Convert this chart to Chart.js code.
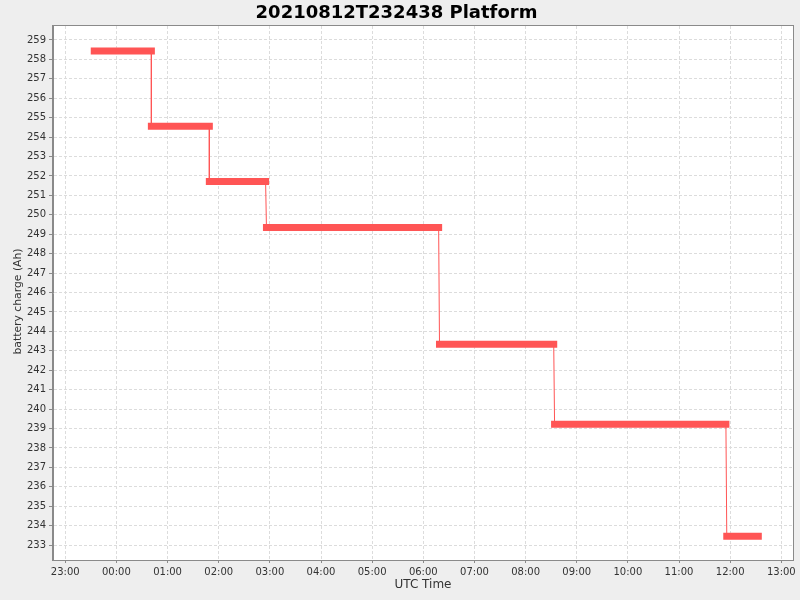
<!DOCTYPE html>
<html>
<head>
<meta charset="utf-8">
<script src="https://cdn.jsdelivr.net/npm/chart.js@4.4.1/dist/chart.umd.min.js"></script>
<style>
  html, body { margin: 0; padding: 0; background: #eeeeee; }
  #wrap { width: 800px; height: 600px; }
</style>
</head>
<body>
<div id="wrap"><canvas id="c" width="800" height="600"></canvas></div>
<script>
// ---- data ----
const chartTitle = "20210812T232438 Platform";
const xAxisTitle = "UTC Time";
const yAxisTitle = "battery charge (Ah)";
const segStart = ["23:34", "00:41", "01:49", "02:56", "06:19", "08:34", "11:56"];
const segEnd   = ["00:41", "01:49", "02:55", "06:18", "08:33", "11:55", "12:33"];
const segValue = [258.43, 254.56, 251.72, 249.35, 243.34, 239.22, 233.45];
const xTickLabels = ["23:00","00:00","01:00","02:00","03:00","04:00","05:00","06:00","07:00","08:00","09:00","10:00","11:00","12:00","13:00"];
const yTickValues = [233,234,235,236,237,238,239,240,241,242,243,244,245,246,247,248,249,250,251,252,253,254,255,256,257,258,259];
const xRange = ["22:45.6", "13:13.7"];
const yRange = [232.23, 259.72];

// time "HH:MM" -> hours on a continuous axis (night of 12 -> 13 Aug)
function toHours(s) {
  const p = s.split(":");
  let h = parseFloat(p[0]) + parseFloat(p[1]) / 60;
  if (h < 20) h += 24;
  return h;
}

const thinPts = [];
const thickPts = [];
for (let i = 0; i < segValue.length; i++) {
  const a = { x: toHours(segStart[i]), y: segValue[i] };
  const b = { x: toHours(segEnd[i]), y: segValue[i] };
  thinPts.push(a, b);
  thickPts.push(a, b);
  if (i < segValue.length - 1) thickPts.push({ x: (b.x + toHours(segStart[i + 1])) / 2, y: null });
}
const xTickValues = xTickLabels.map(toHours);

const FONT = "'DejaVu Sans', sans-serif";

const plotFrame = {
  id: 'plotFrame',
  beforeDraw(chart) {
    const { ctx, chartArea: a } = chart;
    ctx.save();
    ctx.fillStyle = '#eeeeee';
    ctx.fillRect(0, 0, chart.width, chart.height);
    ctx.fillStyle = '#ffffff';
    ctx.fillRect(a.left, a.top, a.right - a.left, a.bottom - a.top);
    ctx.restore();
  },
  afterDraw(chart) {
    const { ctx, chartArea: a } = chart;
    ctx.save();
    ctx.strokeStyle = '#8a8a8a';
    ctx.lineWidth = 1;
    ctx.strokeRect(Math.round(a.left) - 0.5, Math.round(a.top) - 0.5, Math.round(a.right - a.left) + 1, Math.round(a.bottom - a.top) + 1);
    // y axis title
    ctx.translate(18, (a.top + a.bottom) / 2 + 8.5);
    ctx.rotate(-Math.PI / 2);
    ctx.fillStyle = '#333333';
    ctx.font = "10.8px " + FONT;
    ctx.textAlign = 'center';
    ctx.textBaseline = 'middle';
    ctx.fillText(yAxisTitle, 0, 0);
    ctx.restore();
  }
};

new Chart(document.getElementById('c'), {
  type: 'line',
  data: {
    datasets: [
      {
        label: 'connect',
        data: thinPts,
        borderColor: '#ff5555',
        borderWidth: 1,
        pointRadius: 0,
        tension: 0,
        fill: false
      },
      {
        label: 'charge',
        data: thickPts,
        borderColor: '#ff5555',
        borderWidth: 7,
        borderCapStyle: 'square',
        pointRadius: 0,
        spanGaps: false,
        tension: 0,
        fill: false
      }
    ]
  },
  options: {
    responsive: false,
    animation: false,
    devicePixelRatio: 1,
    layout: { padding: { left: 0, right: 7, top: 0, bottom: 0 } },
    plugins: {
      legend: { display: false },
      tooltip: { enabled: false },
      title: {
        display: true,
        text: chartTitle,
        color: '#000000',
        font: { family: FONT, size: 18, weight: 'bold' },
        padding: { top: 2.2, bottom: 2.2 }
      }
    },
    scales: {
      x: {
        type: 'linear',
        min: toHours(xRange[0]),
        max: toHours(xRange[1]),
        afterBuildTicks: (s) => { s.ticks = xTickValues.map(v => ({ value: v })); },
        afterFit: (s) => { s.height = 40; },
        ticks: {
          autoSkip: false,
          maxRotation: 0,
          padding: 3,
          color: '#333333',
          font: { family: FONT, size: 10 },
          callback: (v, i) => xTickLabels[i]
        },
        grid: { color: '#dcdcdc', lineWidth: 1, tickLength: 3, tickColor: '#8a8a8a', drawTicks: true },
        border: { display: true, color: '#8a8a8a', dash: [3, 2] },
        title: {
          display: true,
          text: xAxisTitle,
          color: '#333333',
          font: { family: FONT, size: 12 },
          padding: { top: 0, bottom: 8 }
        }
      },
      y: {
        type: 'linear',
        min: yRange[0],
        max: yRange[1],
        afterBuildTicks: (s) => { s.ticks = yTickValues.map(v => ({ value: v })); },
        afterFit: (s) => { s.width = 53; },
        ticks: {
          autoSkip: false,
          padding: 3,
          color: '#333333',
          font: { family: FONT, size: 10 },
          callback: (v) => String(v)
        },
        grid: { color: '#dcdcdc', lineWidth: 1, tickLength: 4, tickColor: '#8a8a8a', drawTicks: true },
        border: { display: true, color: '#8a8a8a', dash: [3, 2] },
        title: { display: false }
      }
    }
  },
  plugins: [plotFrame]
});
</script>
</body>
</html>
